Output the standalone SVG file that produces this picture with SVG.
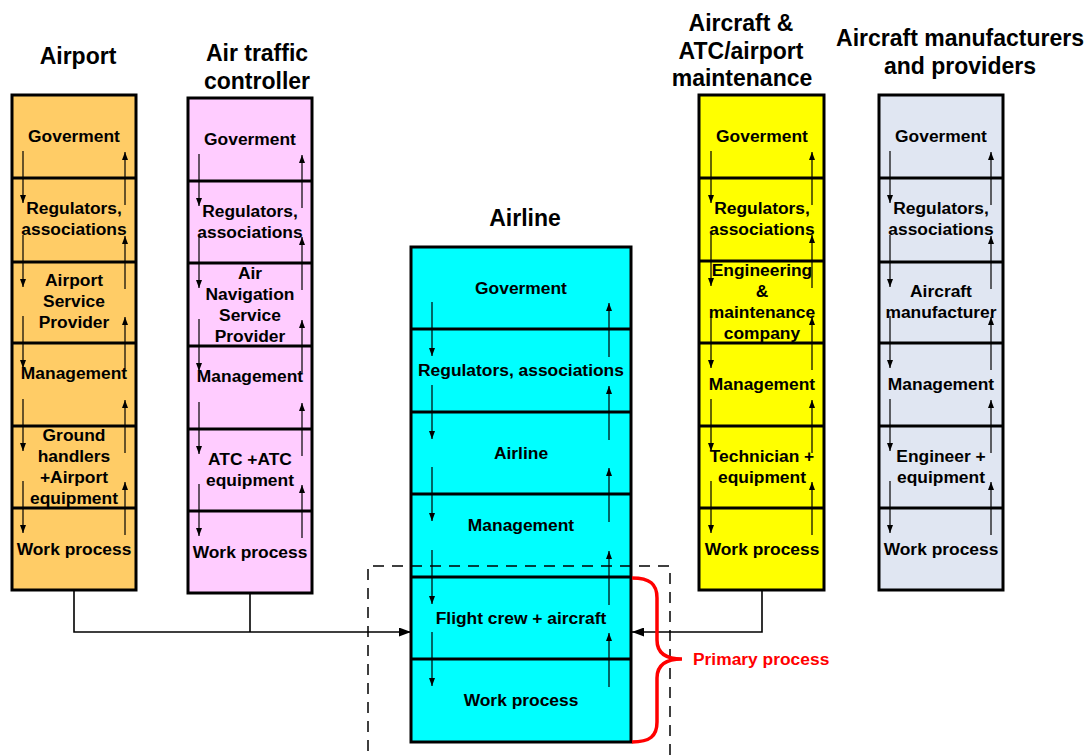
<svg xmlns="http://www.w3.org/2000/svg" width="1089" height="756" viewBox="0 0 1089 756">
  <defs>
    <marker id="tip" viewBox="0 0 8 6" refX="8" refY="3" markerWidth="8" markerHeight="6" markerUnits="userSpaceOnUse" orient="auto">
      <path d="M0,0 L8,3 L0,6 Z" fill="#000"/>
    </marker>
    <marker id="bigtip" viewBox="0 0 12 9" refX="12" refY="4.5" markerWidth="12" markerHeight="9" markerUnits="userSpaceOnUse" orient="auto">
      <path d="M0,0 L12,4.5 L0,9 Z" fill="#000"/>
    </marker>
  </defs>
  <style>
    text { font-family: "Liberation Sans", Arial, sans-serif; font-weight: bold; fill: #000; text-anchor: middle; }
    .lbl { font-size: 17.4px; }
    .ttl { font-size: 23px; }
    .box { stroke: #000; stroke-width: 3; }
    .div { stroke: #000; stroke-width: 3; fill: none; }
    .arr line { stroke: #000; stroke-width: 1.2; marker-end: url(#tip); }
    .conn { stroke: #000; stroke-width: 1.6; fill: none; }
    .red { fill: #FF0000; font-size: 17.4px; text-anchor: start; }
  </style>
  <rect width="1089" height="756" fill="#fff"/>

  <!-- Airport -->
  <g id="airport">
    <text class="ttl" x="78" y="64">Airport</text>
    <rect class="box" x="12" y="95" width="124" height="495" fill="#FFCC66"/>
    <path class="div" d="M12,178H136M12,262H136M12,343H136M12,426H136M12,508H136"/>
    <g class="arr">
      <line x1="23" y1="151" x2="23" y2="203"/><line x1="23" y1="235" x2="23" y2="287"/>
      <line x1="23" y1="316" x2="23" y2="368"/><line x1="23" y1="399" x2="23" y2="451"/>
      <line x1="23" y1="481" x2="23" y2="533"/>
      <line x1="125" y1="205" x2="125" y2="152"/><line x1="125" y1="289" x2="125" y2="236"/>
      <line x1="125" y1="370" x2="125" y2="317"/><line x1="125" y1="453" x2="125" y2="400"/>
      <line x1="125" y1="535" x2="125" y2="482"/>
    </g>
    <text class="lbl" x="74" y="142">Goverment</text>
    <text class="lbl" x="74" y="214">Regulators,</text>
    <text class="lbl" x="74" y="235">associations</text>
    <text class="lbl" x="74" y="286">Airport</text>
    <text class="lbl" x="74" y="307">Service</text>
    <text class="lbl" x="74" y="328">Provider</text>
    <text class="lbl" x="74" y="379">Management</text>
    <text class="lbl" x="74" y="441">Ground</text>
    <text class="lbl" x="74" y="462">handlers</text>
    <text class="lbl" x="74" y="483">+Airport</text>
    <text class="lbl" x="74" y="504">equipment</text>
    <text class="lbl" x="74" y="555">Work process</text>
  </g>

  <!-- Air traffic controller -->
  <g id="atc">
    <text class="ttl" x="257" y="61">Air traffic</text>
    <text class="ttl" x="257" y="89">controller</text>
    <rect class="box" x="188" y="98" width="124" height="495" fill="#FFCCFF"/>
    <path class="div" d="M188,181H312M188,263H312M188,346H312M188,429H312M188,511H312"/>
    <g class="arr">
      <line x1="199" y1="154" x2="199" y2="206"/><line x1="199" y1="236" x2="199" y2="288"/>
      <line x1="199" y1="319" x2="199" y2="371"/><line x1="199" y1="402" x2="199" y2="454"/>
      <line x1="199" y1="484" x2="199" y2="536"/>
      <line x1="302" y1="208" x2="302" y2="155"/><line x1="302" y1="290" x2="302" y2="237"/>
      <line x1="302" y1="373" x2="302" y2="320"/><line x1="302" y1="456" x2="302" y2="403"/>
      <line x1="302" y1="538" x2="302" y2="485"/>
    </g>
    <text class="lbl" x="250" y="145">Goverment</text>
    <text class="lbl" x="250" y="217">Regulators,</text>
    <text class="lbl" x="250" y="238">associations</text>
    <text class="lbl" x="250" y="279">Air</text>
    <text class="lbl" x="250" y="300">Navigation</text>
    <text class="lbl" x="250" y="321">Service</text>
    <text class="lbl" x="250" y="342">Provider</text>
    <text class="lbl" x="250" y="382">Management</text>
    <text class="lbl" x="250" y="465">ATC +ATC</text>
    <text class="lbl" x="250" y="486">equipment</text>
    <text class="lbl" x="250" y="558">Work process</text>
  </g>

  <!-- Airline -->
  <g id="airline">
    <text class="ttl" x="525" y="226">Airline</text>
    <rect class="box" x="411" y="247" width="220" height="495" fill="#00FFFF"/>
    <path class="div" d="M411,329H631M411,412H631M411,494H631M411,577H631M411,659H631"/>
    <g class="arr">
      <line x1="432" y1="302" x2="432" y2="356"/><line x1="432" y1="385" x2="432" y2="439"/>
      <line x1="432" y1="467" x2="432" y2="521"/><line x1="432" y1="550" x2="432" y2="604"/>
      <line x1="432" y1="632" x2="432" y2="686"/>
      <line x1="609" y1="357" x2="609" y2="303"/><line x1="609" y1="440" x2="609" y2="386"/>
      <line x1="609" y1="522" x2="609" y2="468"/><line x1="609" y1="605" x2="609" y2="551"/>
      <line x1="609" y1="687" x2="609" y2="633"/>
    </g>
    <text class="lbl" x="521" y="294">Goverment</text>
    <text class="lbl" x="521" y="376">Regulators, associations</text>
    <text class="lbl" x="521" y="459">Airline</text>
    <text class="lbl" x="521" y="531">Management</text>
    <text class="lbl" x="521" y="624">Flight crew + aircraft</text>
    <text class="lbl" x="521" y="706">Work process</text>
  </g>

  <!-- Aircraft & ATC/airport maintenance -->
  <g id="maintenance">
    <text class="ttl" x="741" y="31">Aircraft &amp;</text>
    <text class="ttl" x="741" y="59">ATC/airport</text>
    <text class="ttl" x="742" y="86">maintenance</text>
    <rect class="box" x="699" y="95" width="125" height="495" fill="#FFFF00"/>
    <path class="div" d="M699,178H824M699,261H824M699,343H824M699,426H824M699,508H824"/>
    <g class="arr">
      <line x1="711" y1="151" x2="711" y2="203"/><line x1="711" y1="234" x2="711" y2="286"/>
      <line x1="711" y1="316" x2="711" y2="368"/><line x1="711" y1="399" x2="711" y2="451"/>
      <line x1="711" y1="481" x2="711" y2="533"/>
      <line x1="812" y1="205" x2="812" y2="152"/><line x1="812" y1="288" x2="812" y2="235"/>
      <line x1="812" y1="370" x2="812" y2="317"/><line x1="812" y1="453" x2="812" y2="400"/>
      <line x1="812" y1="535" x2="812" y2="482"/>
    </g>
    <text class="lbl" x="762" y="142">Goverment</text>
    <text class="lbl" x="762" y="214">Regulators,</text>
    <text class="lbl" x="762" y="235">associations</text>
    <text class="lbl" x="762" y="276">Engineering</text>
    <text class="lbl" x="762" y="297">&amp;</text>
    <text class="lbl" x="762" y="318">maintenance</text>
    <text class="lbl" x="762" y="339">company</text>
    <text class="lbl" x="762" y="390">Management</text>
    <text class="lbl" x="762" y="462">Technician +</text>
    <text class="lbl" x="762" y="483">equipment</text>
    <text class="lbl" x="762" y="555">Work process</text>
  </g>

  <!-- Aircraft manufacturers and providers -->
  <g id="manufacturers">
    <text class="ttl" x="960" y="46">Aircraft manufacturers</text>
    <text class="ttl" x="960" y="74">and providers</text>
    <rect class="box" x="879" y="95" width="124" height="495" fill="#E0E6F2"/>
    <path class="div" d="M879,178H1003M879,262H1003M879,343H1003M879,426H1003M879,508H1003"/>
    <g class="arr">
      <line x1="890" y1="151" x2="890" y2="203"/><line x1="890" y1="235" x2="890" y2="287"/>
      <line x1="890" y1="316" x2="890" y2="368"/><line x1="890" y1="399" x2="890" y2="451"/>
      <line x1="890" y1="481" x2="890" y2="533"/>
      <line x1="991" y1="205" x2="991" y2="152"/><line x1="991" y1="289" x2="991" y2="236"/>
      <line x1="991" y1="370" x2="991" y2="317"/><line x1="991" y1="453" x2="991" y2="400"/>
      <line x1="991" y1="535" x2="991" y2="482"/>
    </g>
    <text class="lbl" x="941" y="142">Goverment</text>
    <text class="lbl" x="941" y="214">Regulators,</text>
    <text class="lbl" x="941" y="235">associations</text>
    <text class="lbl" x="941" y="297">Aircraft</text>
    <text class="lbl" x="941" y="318">manufacturer</text>
    <text class="lbl" x="941" y="390">Management</text>
    <text class="lbl" x="941" y="462">Engineer +</text>
    <text class="lbl" x="941" y="483">equipment</text>
    <text class="lbl" x="941" y="555">Work process</text>
  </g>

  <!-- Connectors into the airline primary process -->
  <g id="connectors">
    <path class="conn" d="M74,590V632H411" marker-end="url(#bigtip)"/>
    <path class="conn" d="M250,593V632"/>
    <path class="conn" d="M762,590V632H632" marker-end="url(#bigtip)"/>
  </g>

  <!-- Primary process boundary and brace -->
  <g id="primary-process">
    <path d="M368,770V566H670V770" fill="none" stroke="#000" stroke-width="1.5" stroke-dasharray="11 8"/>
    <path d="M632,578C650,578 657,584 657,598V640C657,652 665,659 682,659C665,659 657,666 657,678V722C657,736 650,742 632,742" fill="none" stroke="#FF0000" stroke-width="3.5"/>
    <text class="red" x="693" y="665">Primary process</text>
  </g>
</svg>
